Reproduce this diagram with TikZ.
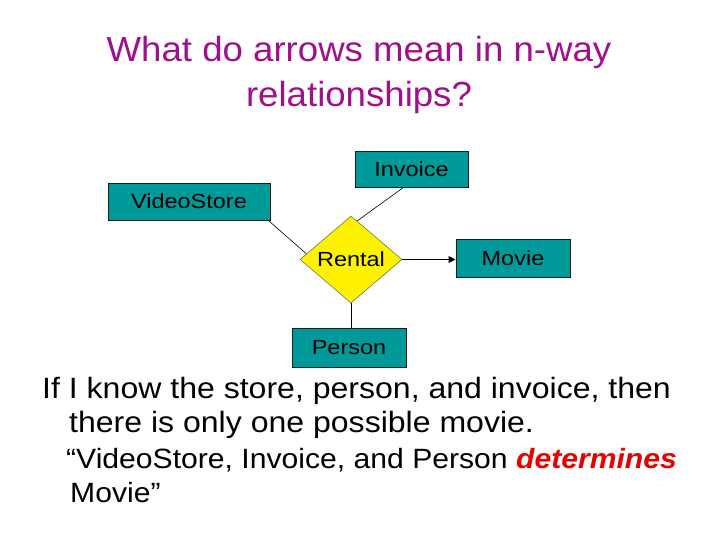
\documentclass[tikz,border=0pt]{standalone}
\usepackage{fontspec}
\setmainfont{Liberation Sans}
\newfontfamily\boxfont[FakeStretch=1.15]{Liberation Sans}
\newfontfamily\bodyfont[FakeStretch=1.09]{Liberation Sans}
\newfontfamily\bodytwofont[FakeStretch=1.08]{Liberation Sans}
\newfontfamily\titlefont[FakeStretch=1.05]{Liberation Sans}
\usetikzlibrary{shapes.geometric,arrows.meta,calc}
\definecolor{teal}{RGB}{0,153,153}
\definecolor{titlemag}{RGB}{160,16,140}
\definecolor{detred}{RGB}{230,0,0}
\tikzset{
  entity/.style={draw=black!80!teal, line width=0.8bp, fill=teal, inner sep=0pt,
    font=\boxfont\fontsize{20.5}{24}\selectfont, text=black},
  relship/.style={diamond, draw=black!60!yellow, line width=0.6bp, fill=yellow, inner sep=0pt,
    minimum width=102bp, minimum height=87bp, font=\boxfont\fontsize{20.5}{24}\selectfont},
  link/.style={draw=black, line width=0.6bp},
  arrowlink/.style={draw=black, line width=1.6bp, -{Triangle[length=7bp,width=6.5bp]}},
  titletext/.style={anchor=base, inner sep=0pt, text=titlemag, font=\titlefont\fontsize{35}{42}\selectfont},
  bodyone/.style={anchor=base west, inner sep=0pt, font=\bodyfont\fontsize{29.5}{34}\selectfont},
  bodytwo/.style={anchor=base west, inner sep=0pt, font=\bodytwofont\fontsize{28}{33}\selectfont},
}
\begin{document}
\begin{tikzpicture}[x=1bp,y=-1bp]
\useasboundingbox (0,0) rectangle (720,540);
% title
\node[titletext] (t1) at (359,62) {What do arrows mean in n-way};
\node[titletext] (t2) at (359,107) {relationships?};
% diagram
\node[entity, minimum width=162bp, minimum height=37bp] (vs) at (189,201.5) {VideoStore};
\node[entity, minimum width=113bp, minimum height=36bp] (inv) at (411.5,169) {Invoice};
\node[entity, minimum width=114bp, minimum height=38bp] (mov) at (513,258) {Movie};
\node[entity, minimum width=114bp, minimum height=39bp] (per) at (349,347.5) {Person};
\node[relship] (ren) at (351,259.5) {Rental};
\draw[link] ($(vs.south west)!0.987!(vs.south east)$) -- ($(ren.west)!0.13!(ren.north)$);
\draw[link] ($(inv.south west)!0.43!(inv.south east)$) -- ($(ren.north)!0.12!(ren.east)$);
\draw[link] (ren.south) -- (ren.south |- per.north);
\draw[arrowlink] (ren.east) -- (ren.east -| mov.west);
% body text
\node[bodyone] (b1) at (42,398) {If I know the store, person, and invoice, then};
\node[bodyone] (b2) at (69,432) {there is only one possible movie.};
\node[bodytwo] (b3) at (66,468) {“VideoStore, Invoice, and Person \textcolor{detred}{\bfseries\itshape determines}};
\node[bodytwo] (b4) at (70,502) {Movie”};
\end{tikzpicture}
\end{document}
